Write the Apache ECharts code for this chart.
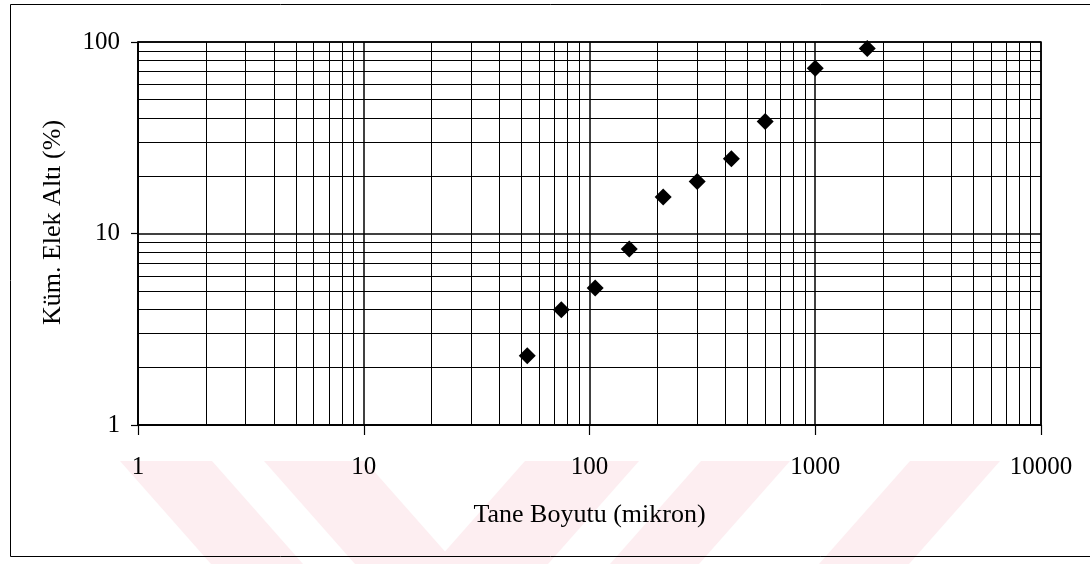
<!DOCTYPE html>
<html>
<head>
<meta charset="utf-8">
<script src="https://cdn.jsdelivr.net/npm/echarts@6/dist/echarts.min.js"></script>
<style>
  html, body { margin: 0; padding: 0; background: #ffffff; }
  #chart { width: 1090px; height: 564px; }
</style>
</head>
<body>
<div id="chart"></div>
<script>
// Sieve analysis: particle size (micron) vs cumulative passing (%)
const sizeMicron = [53, 75, 106, 150, 212, 300, 425, 600, 1000, 1700];
const passingPct = [2.3, 4.0, 5.2, 8.3, 15.5, 18.7, 24.6, 38.5, 73, 92.6];

// Log-paper minor grid: 2..9 within each decade
const minorSteps = [2, 3, 4, 5, 6, 7, 8, 9];
const xDecades = [1, 10, 100, 1000];
const yDecades = [1, 10];

const xMinor = [];
xDecades.forEach(d => minorSteps.forEach(m => xMinor.push(m * d)));
const yMinor = [];
yDecades.forEach(d => minorSteps.forEach(m => yMinor.push(m * d)));

const FONT = '"Liberation Serif", "Times New Roman", serif';
const pink = '#fdeef1';

const chart = echarts.init(document.getElementById('chart'), null, { renderer: 'canvas' });

chart.setOption({
  backgroundColor: '#ffffff',
  animation: false,
  graphic: [
    // faint background emblem
    { type: 'polygon', z: -10, silent: true, shape: { points: [[120, 461], [212, 461], [303, 564], [211, 564]] }, style: { fill: pink } },
    { type: 'polygon', z: -10, silent: true, shape: { points: [[264, 461], [365, 461], [456, 564], [355, 564]] }, style: { fill: pink } },
    { type: 'polygon', z: -10, silent: true, shape: { points: [[525, 461], [639, 461], [548, 564], [434, 564]] }, style: { fill: pink } },
    { type: 'polygon', z: -10, silent: true, shape: { points: [[701, 461], [790, 461], [699, 564], [610, 564]] }, style: { fill: pink } },
    { type: 'polygon', z: -10, silent: true, shape: { points: [[910, 461], [1000, 461], [909, 564], [819, 564]] }, style: { fill: pink } },
    // outer frame
    { type: 'rect', z: 10, silent: true, shape: { x: 10.5, y: 4.5, width: 1100, height: 552 }, style: { fill: 'none', stroke: '#000', lineWidth: 1 } }
  ],
  grid: {
    left: 138, right: 49, top: 42, bottom: 139,
    show: true, borderColor: '#000', borderWidth: 1.5, backgroundColor: 'transparent'
  },
  xAxis: {
    type: 'log', logBase: 10, min: 1, max: 10000,
    name: 'Tane Boyutu (mikron)', nameLocation: 'middle', nameGap: 77,
    nameTextStyle: { fontFamily: FONT, fontSize: 26, color: '#000' },
    axisLine: { show: true, lineStyle: { color: '#000', width: 1.5 } },
    axisTick: { show: true, inside: false, length: 10, lineStyle: { color: '#000', width: 1.2 } },
    axisLabel: { fontFamily: FONT, fontSize: 25, color: '#000', margin: 30, formatter: v => String(v) },
    splitLine: { show: true, lineStyle: { color: '#000', width: 1.5 } },
    minorTick: { show: false },
    minorSplitLine: { show: false }
  },
  yAxis: {
    type: 'log', logBase: 10, min: 1, max: 100,
    name: 'Küm. Elek Altı (%)', nameLocation: 'middle', nameGap: 72, nameRotate: 90,
    nameTextStyle: { fontFamily: FONT, fontSize: 26, color: '#000', padding: [0, 0, 0, 22] },
    axisLine: { show: true, lineStyle: { color: '#000', width: 1.5 } },
    axisTick: { show: true, inside: false, length: 7, lineStyle: { color: '#000', width: 1.2 } },
    axisLabel: { fontFamily: FONT, fontSize: 25, color: '#000', margin: 18, formatter: v => String(v) },
    splitLine: { show: true, lineStyle: { color: '#000', width: 1.5 } },
    minorTick: { show: false },
    minorSplitLine: { show: false }
  },
  series: [
    {
      type: 'scatter',
      data: sizeMicron.map((x, i) => [x, passingPct[i]]),
      symbol: 'diamond',
      symbolSize: 17,
      itemStyle: { color: '#000', opacity: 1 },
      z: 5,
      markLine: {
        silent: true,
        symbol: ['none', 'none'],
        label: { show: false },
        lineStyle: { color: '#000', width: 1, type: 'solid' },
        emphasis: { disabled: true },
        data: xMinor.map(v => ({ xAxis: v })).concat(yMinor.map(v => ({ yAxis: v })))
      }
    }
  ]
});
</script>
</body>
</html>
